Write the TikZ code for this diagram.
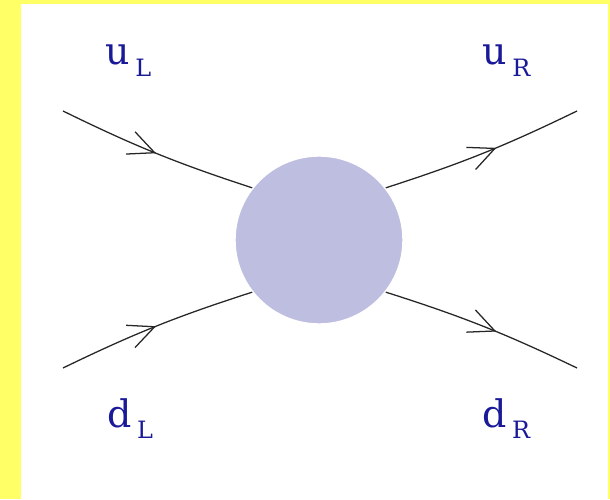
\documentclass[tikz,border=0pt]{standalone}
\usepackage{fontspec}
\setmainfont{DejaVu Serif}
\usepackage{tikz}
\usetikzlibrary{arrows.meta,decorations.markings}
\definecolor{qcdYellow}{HTML}{FFFF66}
\definecolor{qcdBlob}{HTML}{BEBEE1}
\definecolor{qcdNavy}{HTML}{1A1A99}
\newcommand{\quarklabel}[2]{{\fontsize{27}{32}\selectfont #1}\kern4pt\raisebox{-8.5pt}{\fontsize{17}{20}\selectfont #2}}

\begin{document}
\begin{tikzpicture}[
  leg/.style={line width=0.9pt,black!85,postaction={decorate},
    decoration={markings,mark=at position #1 with {\arrow{Straight Barb[length=6.5mm,width=6mm,line width=0.9pt]}}}},
  blob/.style={circle,fill=qcdBlob,draw=white,line width=1pt,minimum size=4.2cm,inner sep=0pt},
  lbl/.style={text=qcdNavy,anchor=base west,inner sep=0pt}]
% frame
\fill[qcdYellow] (0,0) rectangle (15.25,12.475);
\fill[white] (0.525,0) rectangle (15.2,12.375);
% vertex
\node[blob] (blob) at (7.975,6.475) {};
\coordinate (ul) at (1.575,9.7);
\coordinate (dl) at (1.575,3.275);
\coordinate (ur) at (14.425,9.7);
\coordinate (dr) at (14.425,3.275);
\draw[leg=0.5] (ul) to[bend right=4] (blob.142);
\draw[leg=0.5] (dl) to[bend left=4] (blob.218);
\draw[leg=0.57] (blob.38) to[bend right=4] (ur);
\draw[leg=0.57] (blob.322) to[bend left=4] (dr);
% quark labels
\node[lbl] (lblUL) at (2.625,10.85) {\quarklabel{u}{L}};
\node[lbl] (lblUR) at (12.05,10.85) {\quarklabel{u}{R}};
\node[lbl] (lblDL) at (2.675,1.8) {\quarklabel{d}{L}};
\node[lbl] (lblDR) at (12.05,1.8) {\quarklabel{d}{R}};
\end{tikzpicture}
\end{document}
